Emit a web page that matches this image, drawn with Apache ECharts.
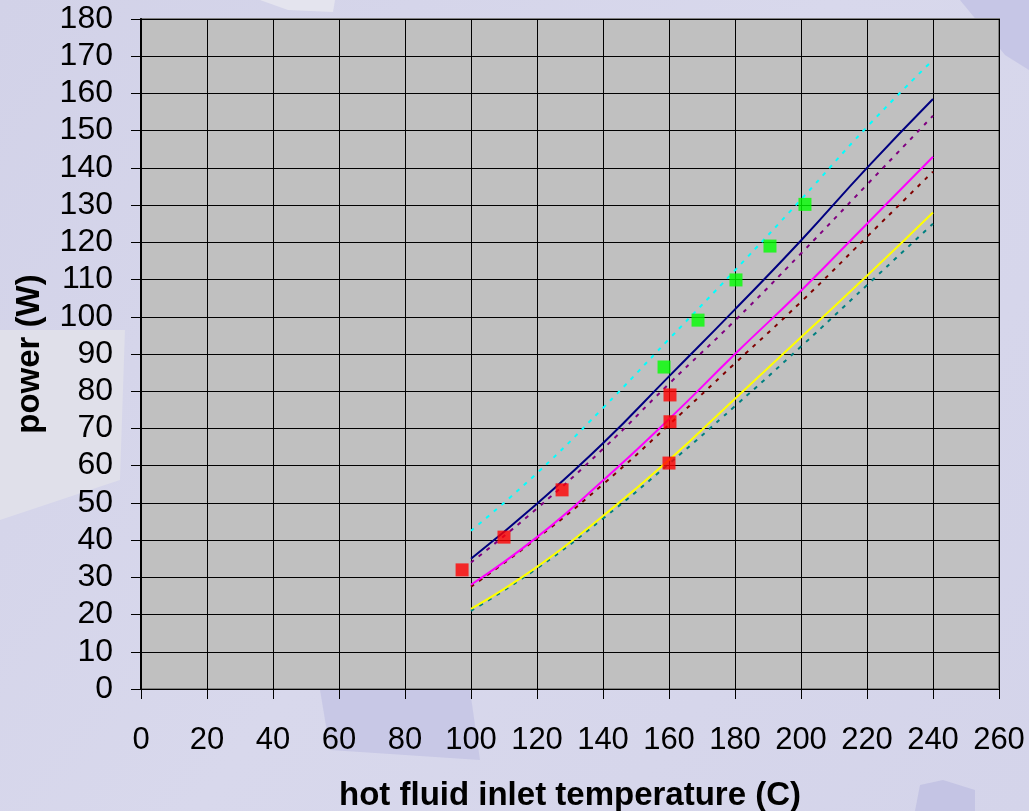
<!DOCTYPE html>
<html>
<head>
<meta charset="utf-8">
<script src="https://cdn.jsdelivr.net/npm/echarts@6/dist/echarts.min.js"></script>
<style>html,body{margin:0;padding:0;}#c{width:1029px;height:811px;}</style>
</head>
<body>
<div id="c"></div>
<script>
// ---- data ----
var xTemps = [100, 120, 140, 160, 180, 200, 220, 240];
var navySolid    = [35, 49.8, 66, 84, 102, 120.5, 140, 158.5];
var magentaSolid = [28, 40.8, 56, 72.5, 90, 107, 125, 143];
var yellowSolid  = [21.5, 32.8, 46.5, 61.5, 78, 94.5, 111, 128];
var cyanDotted   = [42.5, 58, 75.5, 94, 112.5, 131.5, 151, 169];
var purpleDotted = [34, 48.5, 64.5, 82, 99, 117, 135.5, 154];
var darkredDotted= [27.5, 40.5, 55, 71, 87.5, 104, 121.5, 139];
var tealDotted   = [21, 32.4, 45.8, 60.5, 76, 92, 108.5, 125];
var redMeasX = [97.3, 110, 127.6, 160.3, 160.3, 160];
var redMeasY = [32, 40.8, 53.5, 79, 71.8, 60.7];
var greenMeasX = [158.5, 168.8, 180.3, 190.6, 201.2];
var greenMeasY = [86.5, 99.1, 109.9, 119, 130.2];
var xAxisName = 'hot fluid inlet temperature (C)';
var yAxisName = 'power (W)';

function pairs(xs, ys){ return xs.map(function(x,i){ return [x, ys[i]]; }); }

function lineSeries(ys, color, dotted){
  return {
    type: 'line', data: pairs(xTemps, ys), smooth: true, showSymbol: false, symbol: 'none',
    lineStyle: { color: color, width: 2, type: dotted ? [4, 6] : 'solid' },
    z: 3, silent: true
  };
}

var chart = echarts.init(document.getElementById('c'));
var font = '"Liberation Sans", Arial, sans-serif';
chart.setOption({
  animation: false,
  backgroundColor: {
    type: 'linear', x: 0, y: 0, x2: 1, y2: 1,
    colorStops: [{offset: 0, color: '#d2d2e8'}, {offset: 0.5, color: '#d8d8ec'}, {offset: 1, color: '#d4d4ea'}]
  },
  graphic: [
    {type: 'polygon', z: -10, shape: {points: [[0,520],[120,480],[125,330],[0,330]]}, style: {fill: '#e0e0ea'}},
    {type: 'polygon', z: -10, shape: {points: [[960,0],[1029,0],[1029,70],[1005,55]]}, style: {fill: '#c6c6e6'}},
    {type: 'polygon', z: -10, shape: {points: [[320,690],[470,690],[480,760],[330,750]]}, style: {fill: '#c8c8e6'}},
    {type: 'polygon', z: -10, shape: {points: [[920,785],[943,780],[975,790],[975,811],[915,811]]}, style: {fill: '#c4c4e4'}},
    {type: 'polygon', z: -10, shape: {points: [[260,0],[335,0],[333,12],[288,10]]}, style: {fill: '#e4e4ee'}}
  ],
  grid: {
    left: 141, right: 30, top: 19, bottom: 122,
    outerBoundsMode: 'none', containLabel: false,
    show: true, backgroundColor: '#c0c0c0', borderColor: '#808080', borderWidth: 2
  },
  xAxis: {
    type: 'value', min: 0, max: 260, interval: 20,
    name: xAxisName, nameLocation: 'middle', nameGap: 90,
    nameTextStyle: {fontFamily: font, fontSize: 33, fontWeight: 'bold', color: '#000'},
    axisLine: {show: true, onZero: false, lineStyle: {color: '#000', width: 1}},
    axisTick: {show: true, inside: false, length: 10, lineStyle: {color: '#000'}},
    axisLabel: {fontFamily: font, fontSize: 31, color: '#000', margin: 36},
    splitLine: {show: true, lineStyle: {color: '#000', width: 1}}
  },
  yAxis: {
    type: 'value', min: 0, max: 180, interval: 10,
    name: yAxisName, nameLocation: 'middle', nameGap: 95, nameRotate: 90,
    nameTextStyle: {fontFamily: font, fontSize: 33, fontWeight: 'bold', color: '#000'},
    axisLine: {show: true, onZero: false, lineStyle: {color: '#000', width: 2}},
    axisTick: {show: true, inside: false, length: 10, lineStyle: {color: '#000'}},
    axisLabel: {fontFamily: font, fontSize: 32, color: '#000', margin: 28},
    splitLine: {show: true, lineStyle: {color: '#000', width: 1}}
  },
  series: [
    lineSeries(cyanDotted, '#00ffff', true),
    lineSeries(purpleDotted, '#800080', true),
    lineSeries(darkredDotted, '#800000', true),
    lineSeries(tealDotted, '#008080', true),
    lineSeries(navySolid, '#000080', false),
    lineSeries(magentaSolid, '#ff00ff', false),
    lineSeries(yellowSolid, '#ffff00', false),
    {type: 'scatter', data: pairs(redMeasX, redMeasY), symbol: 'rect', symbolSize: 13,
     itemStyle: {color: '#ff0000'}, z: 5},
    {type: 'scatter', data: pairs(greenMeasX, greenMeasY), symbol: 'rect', symbolSize: 13,
     itemStyle: {color: '#00ff00'}, z: 5}
  ]
});
</script>
</body>
</html>
